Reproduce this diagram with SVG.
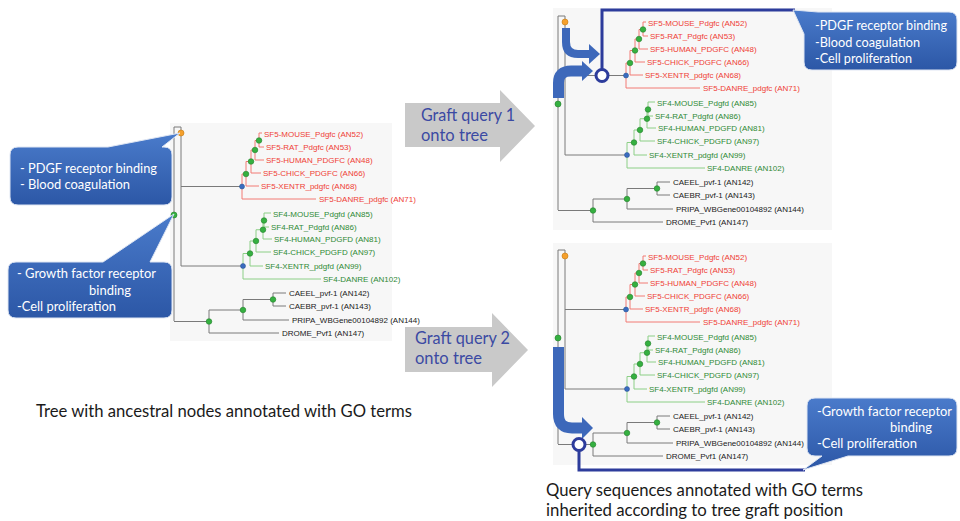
<svg xmlns="http://www.w3.org/2000/svg" width="960" height="521" viewBox="0 0 960 521">
<defs>
<style>
.gl{fill:none;stroke:#7a7a7a;stroke-width:1}
.rl{fill:none;stroke:#f27a74;stroke-width:1}
.vl{fill:none;stroke:#8ccf86;stroke-width:1}
.tr{font-family:"Liberation Sans",Arial,sans-serif;font-size:8px;fill:#ef3e36}
.tg{font-family:"Liberation Sans",Arial,sans-serif;font-size:8px;fill:#2f8a35}
.tk{font-family:"Liberation Sans",Arial,sans-serif;font-size:8px;fill:#1a1a1a}
.dg{fill:#35b040;stroke:#23802b;stroke-width:0.6}
.db{fill:#3a6cc0;stroke:#24508f;stroke-width:0.5}
.do{fill:#f5a02c;stroke:#c57a10;stroke-width:0.6}
.panel{fill:#f7f7f7}
.call{fill:url(#cg);stroke:#dfe6f3;stroke-width:1}
.ct{font-family:Lato,"Open Sans",sans-serif;font-size:13.5px;fill:#ffffff}
.gt{font-family:Lato,"Open Sans",sans-serif;font-size:17px;fill:#3b4aa3}
.bt{font-family:Lato,"Open Sans",sans-serif;font-size:17px;fill:#1a1a1a}
.garrow{fill:#c9c9c9}
.band{fill:none;stroke:#3d68ba}
.head{fill:#3d68ba}
.brk{fill:none;stroke:#2d3c9c;stroke-width:3}
.gc{fill:#ffffff;stroke:#2d3c9c;stroke-width:3}
</style>
<linearGradient id="cg" x1="0" y1="0" x2="0" y2="1"><stop offset="0" stop-color="#4a7bcb"/><stop offset="1" stop-color="#2c57a6"/></linearGradient>
</defs>
<rect width="960" height="521" fill="#ffffff"/>
<g id="panels">
<rect class="panel" x="170" y="123" width="222" height="218"/>
<rect class="panel" x="553" y="8" width="279" height="222"/>
<rect class="panel" x="553" y="243" width="279" height="222"/>
</g>

<g id="tree-left" transform="translate(-384,111)">
<path class="gl" d="M558,16H565M565,16V155M558,16V210M565,75.5H626M565,155H627M558,210.5H593M593,199V222M593,222H663M593,199H627M627,188.5V209M627,209H673M627,188.5H657M657,182V195M657,182H670M657,195H670"/>
<path class="rl" d="M626,63V88M626,88H700M626,63H630M630,50.5V75M630,75H643M630,50.5H635M635,39V62M635,62H645M635,39H639M639,29.5V49M639,49H648M639,29.5H643M643,22V36M643,22H646M643,36H648"/>
<path class="vl" d="M627,142.5V168M627,168H705M627,142.5H634M634,130V155M634,155H647M634,130H640M640,118.75V141M640,141H655M640,118.75H647M647,109.5V128M647,128H656M647,109.5H648M648,102V116M648,102H655M648,116H653"/>
<circle class="do" cx="565" cy="22" r="3"/>
<circle class="dg" cx="558" cy="104" r="3"/>
<circle class="dg" cx="643" cy="29.5" r="2.8"/><circle class="dg" cx="639" cy="39" r="2.8"/><circle class="dg" cx="635" cy="50.5" r="2.8"/><circle class="dg" cx="630" cy="63" r="2.8"/><circle class="db" cx="626" cy="75.5" r="2.5"/>
<circle class="dg" cx="648" cy="109.5" r="2.8"/><circle class="dg" cx="647" cy="118.75" r="2.8"/><circle class="dg" cx="640" cy="130" r="2.8"/><circle class="dg" cx="634" cy="142.5" r="2.8"/><circle class="db" cx="627" cy="155" r="2.5"/>
<circle class="dg" cx="657" cy="188.5" r="2.8"/><circle class="dg" cx="627" cy="199" r="2.8"/><circle class="dg" cx="593" cy="210.5" r="2.8"/>
<text class="tr" x="648" y="26">SF5-MOUSE_Pdgfc (AN52)</text>
<text class="tr" x="650" y="39">SF5-RAT_Pdgfc (AN53)</text>
<text class="tr" x="650" y="52">SF5-HUMAN_PDGFC (AN48)</text>
<text class="tr" x="647" y="65">SF5-CHICK_PDGFC (AN66)</text>
<text class="tr" x="645" y="78">SF5-XENTR_pdgfc (AN68)</text>
<text class="tr" x="703" y="91">SF5-DANRE_pdgfc (AN71)</text>
<text class="tg" x="657" y="106">SF4-MOUSE_Pdgfd (AN85)</text>
<text class="tg" x="655" y="119">SF4-RAT_Pdgfd (AN86)</text>
<text class="tg" x="658" y="131">SF4-HUMAN_PDGFD (AN81)</text>
<text class="tg" x="657" y="144">SF4-CHICK_PDGFD (AN97)</text>
<text class="tg" x="649" y="158">SF4-XENTR_pdgfd (AN99)</text>
<text class="tg" x="707" y="171">SF4-DANRE (AN102)</text>
<text class="tk" x="673" y="185">CAEEL_pvf-1 (AN142)</text>
<text class="tk" x="673" y="198">CAEBR_pvf-1 (AN143)</text>
<text class="tk" x="676" y="212">PRIPA_WBGene00104892 (AN144)</text>
<text class="tk" x="666" y="225">DROME_Pvf1 (AN147)</text>
</g>

<g id="tree-query1">
<path class="gl" d="M558,16H565M565,16V155M558,16V210M565,75.5H626M565,155H627M558,210.5H593M593,199V222M593,222H663M593,199H627M627,188.5V209M627,209H673M627,188.5H657M657,182V195M657,182H670M657,195H670"/>
<path class="rl" d="M626,63V88M626,88H700M626,63H630M630,50.5V75M630,75H643M630,50.5H635M635,39V62M635,62H645M635,39H639M639,29.5V49M639,49H648M639,29.5H643M643,22V36M643,22H646M643,36H648"/>
<path class="vl" d="M627,142.5V168M627,168H705M627,142.5H634M634,130V155M634,155H647M634,130H640M640,118.75V141M640,141H655M640,118.75H647M647,109.5V128M647,128H656M647,109.5H648M648,102V116M648,102H655M648,116H653"/>
<circle class="do" cx="565" cy="22" r="3"/>
<circle class="dg" cx="558" cy="104" r="3"/>
<circle class="dg" cx="643" cy="29.5" r="2.8"/><circle class="dg" cx="639" cy="39" r="2.8"/><circle class="dg" cx="635" cy="50.5" r="2.8"/><circle class="dg" cx="630" cy="63" r="2.8"/><circle class="db" cx="626" cy="75.5" r="2.5"/>
<circle class="dg" cx="648" cy="109.5" r="2.8"/><circle class="dg" cx="647" cy="118.75" r="2.8"/><circle class="dg" cx="640" cy="130" r="2.8"/><circle class="dg" cx="634" cy="142.5" r="2.8"/><circle class="db" cx="627" cy="155" r="2.5"/>
<circle class="dg" cx="657" cy="188.5" r="2.8"/><circle class="dg" cx="627" cy="199" r="2.8"/><circle class="dg" cx="593" cy="210.5" r="2.8"/>
<text class="tr" x="648" y="26">SF5-MOUSE_Pdgfc (AN52)</text>
<text class="tr" x="650" y="39">SF5-RAT_Pdgfc (AN53)</text>
<text class="tr" x="650" y="52">SF5-HUMAN_PDGFC (AN48)</text>
<text class="tr" x="647" y="65">SF5-CHICK_PDGFC (AN66)</text>
<text class="tr" x="645" y="78">SF5-XENTR_pdgfc (AN68)</text>
<text class="tr" x="703" y="91">SF5-DANRE_pdgfc (AN71)</text>
<text class="tg" x="657" y="106">SF4-MOUSE_Pdgfd (AN85)</text>
<text class="tg" x="655" y="119">SF4-RAT_Pdgfd (AN86)</text>
<text class="tg" x="658" y="131">SF4-HUMAN_PDGFD (AN81)</text>
<text class="tg" x="657" y="144">SF4-CHICK_PDGFD (AN97)</text>
<text class="tg" x="649" y="158">SF4-XENTR_pdgfd (AN99)</text>
<text class="tg" x="707" y="171">SF4-DANRE (AN102)</text>
<text class="tk" x="673" y="185">CAEEL_pvf-1 (AN142)</text>
<text class="tk" x="673" y="198">CAEBR_pvf-1 (AN143)</text>
<text class="tk" x="676" y="212">PRIPA_WBGene00104892 (AN144)</text>
<text class="tk" x="666" y="225">DROME_Pvf1 (AN147)</text>
</g>

<g id="tree-query2" transform="translate(0,234)">
<path class="gl" d="M558,16H565M565,16V155M558,16V210M565,75.5H626M565,155H627M558,210.5H593M593,199V222M593,222H663M593,199H627M627,188.5V209M627,209H673M627,188.5H657M657,182V195M657,182H670M657,195H670"/>
<path class="rl" d="M626,63V88M626,88H700M626,63H630M630,50.5V75M630,75H643M630,50.5H635M635,39V62M635,62H645M635,39H639M639,29.5V49M639,49H648M639,29.5H643M643,22V36M643,22H646M643,36H648"/>
<path class="vl" d="M627,142.5V168M627,168H705M627,142.5H634M634,130V155M634,155H647M634,130H640M640,118.75V141M640,141H655M640,118.75H647M647,109.5V128M647,128H656M647,109.5H648M648,102V116M648,102H655M648,116H653"/>
<circle class="do" cx="565" cy="22" r="3"/>
<circle class="dg" cx="558" cy="104" r="3"/>
<circle class="dg" cx="643" cy="29.5" r="2.8"/><circle class="dg" cx="639" cy="39" r="2.8"/><circle class="dg" cx="635" cy="50.5" r="2.8"/><circle class="dg" cx="630" cy="63" r="2.8"/><circle class="db" cx="626" cy="75.5" r="2.5"/>
<circle class="dg" cx="648" cy="109.5" r="2.8"/><circle class="dg" cx="647" cy="118.75" r="2.8"/><circle class="dg" cx="640" cy="130" r="2.8"/><circle class="dg" cx="634" cy="142.5" r="2.8"/><circle class="db" cx="627" cy="155" r="2.5"/>
<circle class="dg" cx="657" cy="188.5" r="2.8"/><circle class="dg" cx="627" cy="199" r="2.8"/><circle class="dg" cx="593" cy="210.5" r="2.8"/>
<text class="tr" x="648" y="26">SF5-MOUSE_Pdgfc (AN52)</text>
<text class="tr" x="650" y="39">SF5-RAT_Pdgfc (AN53)</text>
<text class="tr" x="650" y="52">SF5-HUMAN_PDGFC (AN48)</text>
<text class="tr" x="647" y="65">SF5-CHICK_PDGFC (AN66)</text>
<text class="tr" x="645" y="78">SF5-XENTR_pdgfc (AN68)</text>
<text class="tr" x="703" y="91">SF5-DANRE_pdgfc (AN71)</text>
<text class="tg" x="657" y="106">SF4-MOUSE_Pdgfd (AN85)</text>
<text class="tg" x="655" y="119">SF4-RAT_Pdgfd (AN86)</text>
<text class="tg" x="658" y="131">SF4-HUMAN_PDGFD (AN81)</text>
<text class="tg" x="657" y="144">SF4-CHICK_PDGFD (AN97)</text>
<text class="tg" x="649" y="158">SF4-XENTR_pdgfd (AN99)</text>
<text class="tg" x="707" y="171">SF4-DANRE (AN102)</text>
<text class="tk" x="673" y="185">CAEEL_pvf-1 (AN142)</text>
<text class="tk" x="673" y="198">CAEBR_pvf-1 (AN143)</text>
<text class="tk" x="676" y="212">PRIPA_WBGene00104892 (AN144)</text>
<text class="tk" x="666" y="225">DROME_Pvf1 (AN147)</text>
</g>

<g id="connectors">
<path class="brk" d="M602,69.5V10H795"/>
<path class="band" stroke-width="8" d="M566,28V42Q566,54 578,54H590"/>
<polygon class="head" points="589,44 600,54 589,64"/>
<path class="band" stroke-width="11" d="M558.5,98V83Q558.5,71 571,71H583"/>
<polygon class="head" points="582,61 593,71 582,81"/>
<circle class="gc" cx="602" cy="75.5" r="6"/>
<path class="brk" d="M579,450.5V470H805"/>
<path class="band" stroke-width="11" d="M558.5,347V414Q558.5,428 572,428H583"/>
<polygon class="head" points="582,417 593,428 582,439"/>
<circle class="gc" cx="579" cy="444.5" r="6"/>
</g>

<g id="callout-left-1">
<path class="call" d="M18,147H108L180,133L162,147H164Q172,147 172,155V197Q172,205 164,205H18Q10,205 10,197V155Q10,147 18,147Z"/>
<text class="ct" x="20" y="173" textLength="137" lengthAdjust="spacingAndGlyphs">- PDGF receptor binding</text>
<text class="ct" x="20" y="189" textLength="110" lengthAdjust="spacingAndGlyphs">- Blood coagulation</text>
</g>
<g id="callout-left-2">
<path class="call" d="M16,262H103L174,214L150,262H164Q172,262 172,270V310Q172,318 164,318H16Q8,318 8,310V270Q8,262 16,262Z"/>
<text class="ct" x="17" y="278" textLength="139" lengthAdjust="spacingAndGlyphs">- Growth factor receptor</text>
<text class="ct" x="89" y="295" textLength="42" lengthAdjust="spacingAndGlyphs">binding</text>
<text class="ct" x="17" y="311" textLength="99" lengthAdjust="spacingAndGlyphs">-Cell proliferation</text>
</g>
<g id="callout-right-1">
<path class="call" d="M793,10L818,12H949Q957,12 957,20V62Q957,70 949,70H812Q804,70 804,62V34Z"/>
<text class="ct" x="815" y="30" textLength="132" lengthAdjust="spacingAndGlyphs">-PDGF receptor binding</text>
<text class="ct" x="815" y="47" textLength="105" lengthAdjust="spacingAndGlyphs">-Blood coagulation</text>
<text class="ct" x="815" y="63" textLength="97" lengthAdjust="spacingAndGlyphs">-Cell proliferation</text>
</g>
<g id="callout-right-2">
<path class="call" d="M815,398H949Q957,398 957,406V448Q957,456 949,456H848L803,470L822,456H815Q807,456 807,448V406Q807,398 815,398Z"/>
<text class="ct" x="817" y="416" textLength="135" lengthAdjust="spacingAndGlyphs">-Growth factor receptor</text>
<text class="ct" x="890" y="432" textLength="42" lengthAdjust="spacingAndGlyphs">binding</text>
<text class="ct" x="817" y="448" textLength="100" lengthAdjust="spacingAndGlyphs">-Cell proliferation</text>
</g>

<g id="graft-arrow-1">
<polygon class="garrow" points="405,103 500,103 500,90 535,126 500,162 500,147 405,147"/>
<text class="gt" x="421" y="121" textLength="94" lengthAdjust="spacingAndGlyphs">Graft query 1</text>
<text class="gt" x="421" y="141" textLength="67" lengthAdjust="spacingAndGlyphs">onto tree</text>
</g>
<g id="graft-arrow-2">
<polygon class="garrow" points="405,327 492,327 492,313 528,350 492,387 492,372 405,372"/>
<text class="gt" x="415" y="344" textLength="95" lengthAdjust="spacingAndGlyphs">Graft query 2</text>
<text class="gt" x="415" y="364" textLength="67" lengthAdjust="spacingAndGlyphs">onto tree</text>
</g>

<g id="captions">
<text class="bt" x="36" y="417" textLength="376" lengthAdjust="spacingAndGlyphs">Tree with ancestral nodes annotated with GO terms</text>
<text class="bt" x="546" y="496" textLength="317" lengthAdjust="spacingAndGlyphs">Query sequences annotated with GO terms</text>
<text class="bt" x="546" y="516" textLength="297" lengthAdjust="spacingAndGlyphs">inherited according to tree graft position</text>
</g>
</svg>
